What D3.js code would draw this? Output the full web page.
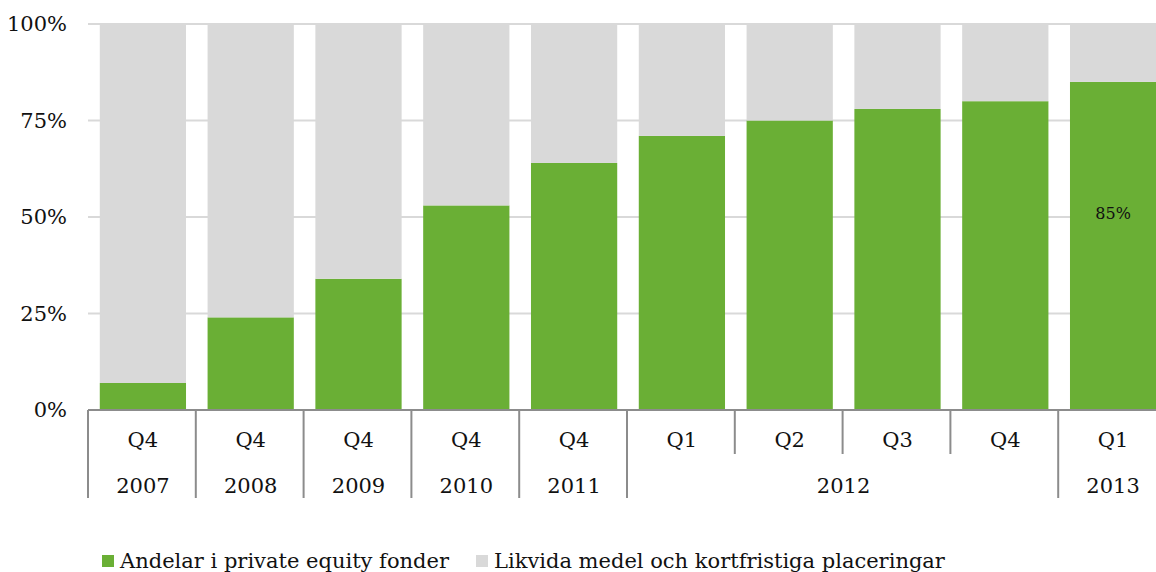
<!DOCTYPE html>
<html>
<head>
<meta charset="utf-8">
<script src="https://cdn.jsdelivr.net/npm/d3@7"></script>
<style>
  body { margin: 0; background: #fff; }
  svg text { font-family: "DejaVu Serif", Georgia, serif; fill: #111; }
</style>
</head>
<body>
<svg id="chart" width="1156" height="572"></svg>
<script>
(function () {
    var width = 1156, height = 572

    // data
    const quarters = ["Q4", "Q4", "Q4", "Q4", "Q4", "Q1", "Q2", "Q3", "Q4", "Q1"];
    const years = ["2007", "2008", "2009", "2010", "2011", "2012", "2012", "2012", "2012", "2013"];
    const privateEquity = [7, 24, 34, 53, 64, 71, 75, 78, 80, 85];
    const yTicks = [0, 25, 50, 75, 100];
    const seriesNames = ["Andelar i private equity fonder", "Likvida medel och kortfristiga placeringar"];
    const colors = ["#6aaf35", "#d9d9d9"];

    const rows = quarters.map((q, i) => ({ key: i, q: q, year: years[i], pe: privateEquity[i], rest: 100 - privateEquity[i] }));

    const x = d3.scaleBand().domain(rows.map(d => d.key)).range([88, 1166]).paddingInner(0.2).paddingOuter(0.1);
    const y = d3.scaleLinear().domain([0, 100]).range([410, 24]);

    const svg = d3.select("#chart");

    // gridlines
    svg.append("g")
        .selectAll("line")
        .data(yTicks.filter(t => t > 0))
        .join("line")
        .attr("x1", 88).attr("x2", width)
        .attr("y1", d => y(d)).attr("y2", d => y(d))
        .attr("stroke", "#d9d9d9").attr("stroke-width", 2);

    // y labels
    svg.append("g")
        .selectAll("text")
        .data(yTicks)
        .join("text")
        .attr("x", 67).attr("y", d => y(d))
        .attr("dy", "0.35em")
        .attr("text-anchor", "end")
        .style("font-size", "21px")
        .text(d => d + "%");

    // stacked bars
    const stack = d3.stack().keys(["pe", "rest"])(rows);
    svg.append("g")
        .selectAll("g")
        .data(stack)
        .join("g")
        .attr("fill", (d, i) => colors[i])
        .selectAll("rect")
        .data(d => d)
        .join("rect")
        .attr("x", d => x(d.data.key) + 1)
        .attr("width", x.bandwidth())
        .attr("y", d => y(d[1]))
        .attr("height", d => y(d[0]) - y(d[1]));

    // value label on last bar
    const last = rows[rows.length - 1];
    svg.append("text")
        .attr("x", x(last.key) + x.bandwidth() / 2 + 1)
        .attr("y", y(last.pe * 0.6))
        .attr("dy", "0.35em")
        .attr("text-anchor", "middle")
        .style("font-size", "16px")
        .text(last.pe + "%");

    // axis line
    svg.append("line")
        .attr("x1", 88).attr("x2", width)
        .attr("y1", y(0)).attr("y2", y(0))
        .attr("stroke", "#8c8c8c").attr("stroke-width", 2);

    // category separators: long where the year changes, short otherwise
    const step = x.step();
    const leftEdge = i => x(i) - step * x.paddingInner() / 2;
    const seps = rows.map((d, i) => ({ pos: leftEdge(i), long: i === 0 || years[i] !== years[i - 1] }));
    seps.push({ pos: leftEdge(rows.length - 1) + step, long: true });
    svg.append("g")
        .selectAll("line")
        .data(seps)
        .join("line")
        .attr("x1", d => d.pos).attr("x2", d => d.pos)
        .attr("y1", y(0)).attr("y2", d => d.long ? 498 : 454)
        .attr("stroke", "#8c8c8c").attr("stroke-width", 2);

    // quarter labels
    svg.append("g")
        .selectAll("text")
        .data(rows)
        .join("text")
        .attr("x", d => x(d.key) + x.bandwidth() / 2 + 1)
        .attr("y", 440)
        .attr("dy", "0.35em")
        .attr("text-anchor", "middle")
        .style("font-size", "21px")
        .text(d => d.q);

    // year labels centred on their group
    const yearGroups = d3.groups(rows, d => d.year).map(([yr, arr]) => ({
        year: yr,
        mid: (x(arr[0].key) + x(arr[arr.length - 1].key) + x.bandwidth()) / 2 + 1
    }));
    svg.append("g")
        .selectAll("text")
        .data(yearGroups)
        .join("text")
        .attr("x", d => d.mid)
        .attr("y", 486)
        .attr("dy", "0.35em")
        .attr("text-anchor", "middle")
        .style("font-size", "21px")
        .text(d => d.year);

    // legend
    const legendX = [102, 476];
    const legend = svg.append("g")
        .selectAll("g")
        .data(seriesNames)
        .join("g")
        .attr("transform", (d, i) => "translate(" + legendX[i] + ",555)");
    legend.append("rect")
        .attr("width", 12).attr("height", 12)
        .attr("fill", (d, i) => colors[i]);
    legend.append("text")
        .attr("x", 18).attr("y", 6)
        .attr("dy", "0.35em")
        .style("font-size", "21px")
        .text(d => d);
})();
</script>
</body>
</html>
